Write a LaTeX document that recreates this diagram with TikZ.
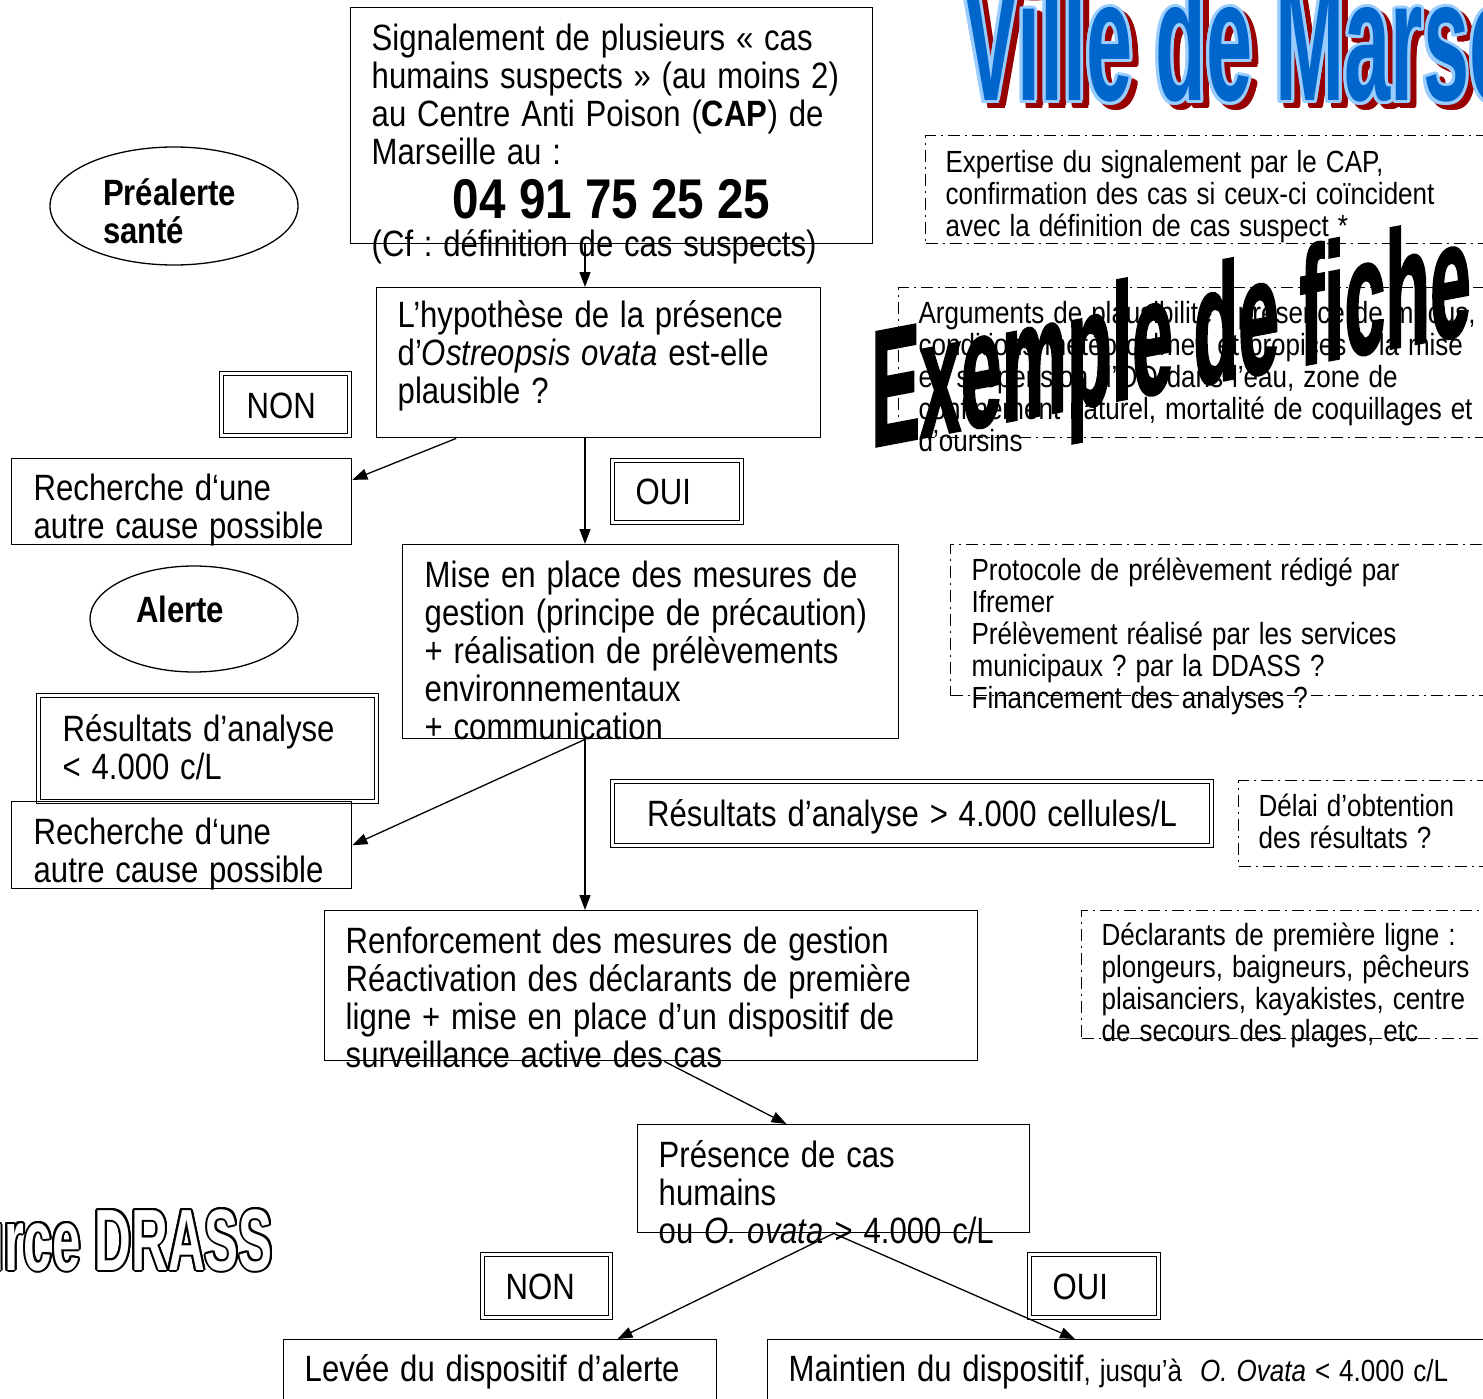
\documentclass[tikz,border=0pt]{standalone}
\usepackage{fontspec}
\setmainfont{Liberation Sans}[FakeStretch=0.85]
\newfontfamily\artfont{Liberation Sans Bold}
\newfontfamily\fichefont{Liberation Sans Bold}[FakeBold=2]
\newcommand\flowfont{\fontsize{36.6}{38}\selectfont}
\newcommand\notefont{\fontsize{30.6}{32}\selectfont\spaceskip=9pt minus 2pt\relax}
\frenchspacing
\usetikzlibrary{arrows.meta,calc,shapes.geometric}
\definecolor{marseilleblue}{HTML}{0066CC}
\definecolor{rimblue}{HTML}{99CCFF}
\definecolor{shadowred}{HTML}{990000}
\tikzset{
  flowbox/.style={rectangle,draw=black,line width=1.4pt,anchor=north west,align=left,inner ysep=0pt,inner xsep=21pt,font=\flowfont,execute at begin node={\spaceskip=10.8pt minus 2pt\relax}},
  answerbox/.style={flowbox,double,double distance=2.6pt,line width=1.2pt},
  notebox/.style={rectangle,draw=black,line width=1.2pt,dash pattern=on 12pt off 5pt on 2pt off 5pt,anchor=north west,align=left,inner ysep=0pt,inner xsep=20pt,font=\notefont,execute at begin node={\spaceskip=9pt minus 2pt\relax}},
  phasebox/.style={ellipse,draw=black,line width=1.3pt,inner sep=0pt,align=left,font=\flowfont\bfseries},
  boxsize/.style n args={3}{text width=#1,text height=#2,text depth=#3},
  arrow/.style={-{Triangle[length=15pt,width=11pt]},line width=1.3pt},
  wordart/.style={inner sep=0pt,anchor=base west,font=\artfont\fontsize{#1}{#1}\selectfont}
}

\begin{document}
\begin{tikzpicture}[x=1pt,y=-1pt]
  \useasboundingbox (0,0) rectangle (1483,1399);
  \clip (0,0) rectangle (1483,1399);
  \fill[white] (0,0) rectangle (1483,1399);

  \node[phasebox, minimum width=248pt, minimum height=118pt, boxsize={142pt}{38pt}{38pt}] (prealerte) at (174,206) {Préalerte\\santé};
  \node[phasebox, minimum width=208pt, minimum height=106pt, boxsize={116pt}{26pt}{20pt}] (alerte) at (194,619) {Alerte};

  \node[flowbox, boxsize={480pt}{43pt}{193pt}] (sig) at (350,7) {Signalement de plusieurs « cas\\humains suspects » (au moins 2)\\au Centre Anti Poison (\textbf{CAP}) de\\Marseille au :\par
    {\centering\fontsize{56}{54}\selectfont\bfseries\spaceskip=0pt 04 91 75 25 25\par}
    (Cf : définition de cas suspects)};
  \node[flowbox, boxsize={402pt}{40pt}{110pt}] (hyp) at (376,287) {L’hypothèse de la présence\\d’\textit{Ostreopsis ovata} est-elle\\plausible ?};
  \node[answerbox, inner xsep=25pt, boxsize={78pt}{45pt}{17pt}] (non1) at (221,373) {NON};
  \node[flowbox, inner xsep=22pt, boxsize={296pt}{42pt}{44pt}] (rech1) at (11,458) {Recherche d‘une\\autre cause possible};
  \node[answerbox, inner xsep=23pt, boxsize={83pt}{44pt}{18pt}] (oui1) at (612,460) {OUI};
  \node[flowbox, inner xsep=22pt, boxsize={452pt}{43pt}{151pt}] (mise) at (402,544) {Mise en place des mesures de\\gestion (principe de précaution)\\+ réalisation de prélèvements\\environnementaux\\+ communication};
  \node[answerbox, inner xsep=24pt, boxsize={290pt}{46pt}{60pt}] (resl) at (38,695) {Résultats d’analyse\\< 4.000 c/L};
  \node[flowbox, inner xsep=22pt, boxsize={296pt}{43pt}{44pt}] (rech2) at (11,801) {Recherche d‘une\\autre cause possible};
  \node[answerbox, inner xsep=22pt, align=center, boxsize={555pt}{45pt}{19pt}] (resh) at (612,781) {Résultats d’analyse > 4.000 cellules/L};
  \node[flowbox, boxsize={611pt}{43pt}{107pt}] (renf) at (324,910) {Renforcement des mesures de gestion\\Réactivation des déclarants de première\\ligne + mise en place d’un dispositif de\\surveillance active des cas};
  \node[flowbox, boxsize={350pt}{43pt}{65pt}] (pres) at (637,1124) {Présence de cas\\humains\\ou \textit{O. ovata} > 4.000 c/L};
  \node[answerbox, inner xsep=23pt, boxsize={82pt}{45pt}{18pt}] (non2) at (482,1254) {NON};
  \node[answerbox, inner xsep=23pt, boxsize={83pt}{45pt}{18pt}] (oui2) at (1029,1254) {OUI};
  \node[flowbox, boxsize={391pt}{42pt}{39pt}] (levee) at (283,1339) {Levée du dispositif d’alerte};
  \node[flowbox, boxsize={751pt}{42pt}{39pt}] (maint) at (767,1339) {Maintien du dispositif{\notefont, jusqu’à\ \ \textit{O. Ovata} < 4.000 c/L}};

  \node[notebox, boxsize={595pt}{37pt}{71pt}] (expert) at (925,135) {Expertise du signalement par le CAP,\\confirmation des cas si ceux-ci coïncident\\avec la définition de cas suspect *};
  \node[notebox, boxsize={622pt}{36pt}{114pt}] (argum) at (898,287) {Arguments de plausibilité : présence de mucus,\\conditions météo calmes et propices à la mise\\en suspension d’OO dans l’eau, zone de\\confinement naturel, mortalité de coquillages et\\d’oursins};
  \node[notebox, inner xsep=21pt, boxsize={568pt}{36pt}{115pt}] (proto) at (950,544) {Protocole de prélèvement rédigé par\\Ifremer\\Prélèvement réalisé par les services\\municipaux ? par la DDASS ?\\Financement des analyses ?};
  \node[notebox, boxsize={282pt}{36pt}{50pt}] (delai) at (1238,780) {Délai d’obtention\\des résultats ?};
  \node[notebox, boxsize={439pt}{35pt}{93pt}] (declar) at (1081,910) {Déclarants de première ligne :\\plongeurs, baigneurs, pêcheurs\\plaisanciers, kayakistes, centre\\de secours des plages, etc};

  \coordinate (spine) at (585,0);
  \draw[arrow] (sig.south -| spine) -- (hyp.north -| spine);
  \draw[arrow] ($(hyp.south west)!0.18!(hyp.south east)$) -- ($(rech1.north east)!0.25!(rech1.south east)$);
  \draw[arrow] (hyp.south -| spine) -- (mise.north -| spine);
  \draw[arrow] (mise.south -| spine) -- (rech2.east);
  \draw[arrow] (mise.south -| spine) -- (renf.north -| spine);
  \draw[arrow] ($(renf.south west)!0.52!(renf.south east)$) -- ($(pres.north west)!0.38!(pres.north east)$);
  \draw[arrow] (pres.south) -- ($(levee.north west)!0.77!(levee.north east)$);
  \draw[arrow] (pres.south) -- ($(maint.north west)+(308,0)$);

  \coordinate (ttlbase) at (963,101);
  \foreach \k in {1,...,16}
    \node[wordart=173, xscale=.48, text=shadowred] (ttlshade\k) at ($(ttlbase)+(6,5)+(\k*22.5:3)$) {Ville de Marseille};
  \foreach \k in {1,...,16}
    \node[wordart=173, xscale=.48, text=rimblue] (ttlrim\k) at ($(ttlbase)+(\k*22.5:3)$) {Ville de Marseille};
  \node[wordart=173, xscale=.48, text=marseilleblue] (ttl) at (ttlbase) {Ville de Marseille};

  \node[wordart=165, font=\fichefont\fontsize{165}{165}\selectfont, yslant=.19, xscale=.445] (fiche) at (871,447) {Exemple de fiche};

  \coordinate (drassbase) at (273,1270);
  \foreach \k in {1,...,16}
    \node[wordart=87, anchor=base east, xscale=.585, text=black] (drassrim\k) at ($(drassbase)+(\k*22.5:2)$) {Source DRASS};
  \node[wordart=87, anchor=base east, xscale=.585, text=white] (drass) at (drassbase) {Source DRASS};
\end{tikzpicture}
\end{document}
